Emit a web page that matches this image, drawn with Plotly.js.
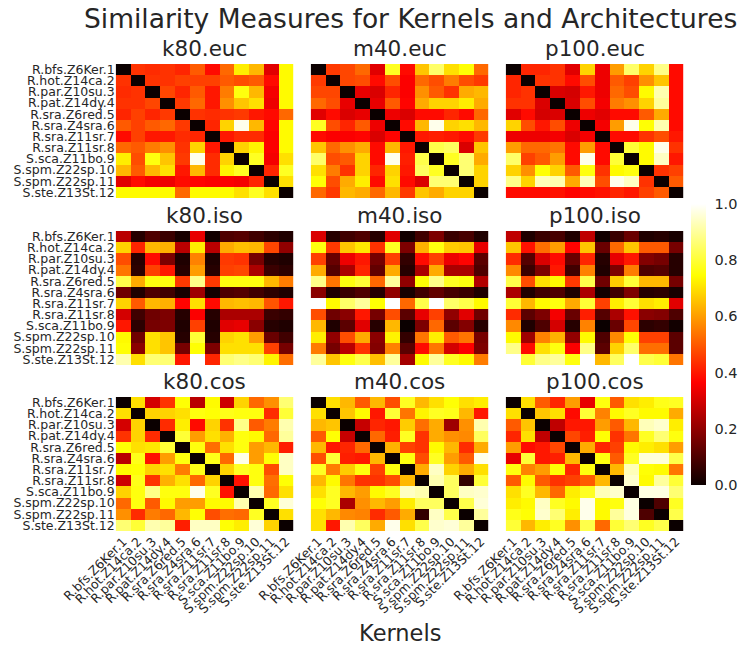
<!DOCTYPE html>
<html>
<head>
<meta charset="utf-8">
<script src="https://cdn.plot.ly/plotly-3.0.1.min.js"></script>
<style>html,body{margin:0;padding:0;background:#fff;}#chart{width:747px;height:655px;}</style>
</head>
<body>
<div id="chart"></div>
<script>
const kernels = ["R.bfs.Z6Ker.1","R.hot.Z14ca.2","R.par.Z10su.3","R.pat.Z14dy.4","R.sra.Z6red.5","R.sra.Z4sra.6","R.sra.Z11sr.7","R.sra.Z11sr.8","S.sca.Z11bo.9","S.spm.Z22sp.10","S.spm.Z22sp.11","S.ste.Z13St.12"];
const panelTitles = ["k80.euc","m40.euc","p100.euc","k80.iso","m40.iso","p100.iso","k80.cos","m40.cos","p100.cos"];
const colorbarTicks = [0, 0.2, 0.4, 0.6, 0.8, 1.0];

const k80Euc = [
[0,0.44,0.43,0.44,0.42,0.50,0.38,0.52,0.72,0.64,0.32,0.74],
[0.44,0,0.44,0.44,0.46,0.46,0.46,0.50,0.48,0.50,0.38,0.74],
[0.43,0.44,0,0.47,0.42,0.50,0.40,0.55,0.76,0.64,0.35,0.74],
[0.44,0.44,0.47,0,0.45,0.52,0.40,0.58,0.66,0.70,0.34,0.74],
[0.42,0.46,0.42,0.45,0,0.44,0.43,0.44,0.45,0.40,0.38,0.52],
[0.50,0.46,0.50,0.52,0.45,0,0.42,0.68,0.98,0.64,0.37,0.74],
[0.38,0.46,0.40,0.40,0.43,0.42,0,0.40,0.43,0.43,0.36,0.74],
[0.52,0.50,0.55,0.58,0.44,0.68,0.40,0,0.68,0.73,0.36,0.74],
[0.72,0.48,0.76,0.66,0.45,0.98,0.43,0.68,0,0.78,0.35,0.70],
[0.64,0.50,0.64,0.70,0.40,0.64,0.43,0.73,0.78,0,0.42,0.78],
[0.32,0.38,0.35,0.34,0.38,0.37,0.36,0.36,0.35,0.42,0,0.70],
[0.74,0.74,0.74,0.74,0.52,0.74,0.74,0.74,0.70,0.78,0.70,0]];

const m40Euc = [
[0,0.45,0.47,0.52,0.32,0.78,0.38,0.66,0.85,0.70,0.75,0.52],
[0.45,0,0.47,0.48,0.38,0.48,0.36,0.52,0.48,0.55,0.48,0.45],
[0.47,0.47,0,0.33,0.31,0.42,0.36,0.58,0.50,0.44,0.62,0.64],
[0.52,0.48,0.33,0,0.33,0.50,0.37,0.62,0.68,0.68,0.72,0.62],
[0.32,0.38,0.31,0.33,0,0.34,0.31,0.38,0.38,0.42,0.38,0.52],
[0.78,0.48,0.42,0.50,0.34,0,0.38,0.64,0.98,0.68,0.70,0.64],
[0.38,0.36,0.36,0.37,0.31,0.37,0,0.40,0.41,0.40,0.38,0.45],
[0.66,0.52,0.58,0.62,0.38,0.64,0.40,0,0.82,0.84,0.31,0.66],
[0.85,0.48,0.50,0.68,0.38,0.98,0.41,0.82,0,0.78,0.86,0.62],
[0.70,0.55,0.44,0.68,0.42,0.68,0.40,0.84,0.78,0,0.86,0.68],
[0.75,0.48,0.62,0.72,0.38,0.70,0.38,0.31,0.86,0.86,0,0.68],
[0.52,0.45,0.64,0.62,0.52,0.64,0.45,0.66,0.62,0.68,0.68,0]];

const p100Euc = [
[0,0.42,0.42,0.44,0.32,0.68,0.34,0.60,0.85,0.68,0.88,0.38],
[0.42,0,0.44,0.44,0.38,0.48,0.34,0.50,0.46,0.58,0.66,0.38],
[0.42,0.44,0,0.31,0.30,0.40,0.34,0.52,0.48,0.74,0.92,0.38],
[0.44,0.44,0.31,0,0.31,0.48,0.35,0.55,0.58,0.68,0.90,0.38],
[0.32,0.38,0.30,0.31,0,0.34,0.32,0.38,0.38,0.50,0.62,0.38],
[0.68,0.48,0.40,0.48,0.34,0,0.35,0.60,0.98,0.75,0.92,0.38],
[0.34,0.34,0.34,0.35,0.31,0.35,0,0.38,0.38,0.44,0.48,0.40],
[0.60,0.52,0.52,0.54,0.38,0.60,0.38,0,0.80,0.74,0.98,0.44],
[0.85,0.46,0.50,0.60,0.38,0.98,0.38,0.80,0,0.74,0.94,0.40],
[0.68,0.58,0.75,0.68,0.50,0.76,0.44,0.74,0.76,0,0.44,0.46],
[0.88,0.68,0.93,0.92,0.62,0.93,0.48,0.98,0.94,0.44,0,0.50],
[0.38,0.38,0.38,0.39,0.37,0.38,0.39,0.42,0.40,0.46,0.50,0]];

const k80Iso = [
[0.26,0.04,0.10,0.07,0.02,0.33,0.01,0.10,0.11,0.08,0.05,0.03],
[0.68,0.42,0.64,0.63,0.26,0.72,0.26,0.62,0.65,0.64,0.47,0.20],
[0.48,0.04,0.38,0.17,0.03,0.56,0.03,0.45,0.44,0.16,0.04,0.03],
[0.54,0.05,0.46,0.40,0.04,0.60,0.04,0.46,0.47,0.24,0.07,0.05],
[0.82,0.62,0.76,0.76,0.45,0.88,0.45,0.76,0.76,0.76,0.64,0.55],
[0.15,0.03,0.10,0.08,0.02,0.22,0.01,0.10,0.11,0.08,0.05,0.03],
[0.68,0.50,0.64,0.63,0.37,0.70,0.38,0.64,0.65,0.64,0.49,0.40],
[0.30,0.08,0.15,0.17,0.04,0.36,0.04,0.24,0.24,0.24,0.07,0.06],
[0.40,0.05,0.16,0.17,0.03,0.46,0.03,0.32,0.33,0.19,0.04,0.03],
[0.74,0.15,0.70,0.66,0.04,0.80,0.04,0.68,0.70,0.60,0.14,0.08],
[0.75,0.19,0.70,0.66,0.16,0.75,0.17,0.70,0.70,0.70,0.46,0.16],
[0.92,0.70,0.86,0.86,0.40,1.00,0.42,0.86,0.88,0.86,0.73,0.53]];

const m40Iso = [
[0.31,0.04,0.08,0.10,0.04,0.32,0.01,0.08,0.17,0.07,0.09,0.03],
[0.76,0.45,0.66,0.71,0.44,0.78,0.17,0.63,0.76,0.67,0.66,0.33],
[0.46,0.14,0.34,0.40,0.16,0.46,0.06,0.38,0.46,0.34,0.37,0.12],
[0.62,0.11,0.24,0.42,0.13,0.62,0.04,0.24,0.62,0.24,0.24,0.10],
[0.88,0.54,0.76,0.80,0.52,0.90,0.20,0.75,0.88,0.78,0.76,0.25],
[0.19,0.03,0.07,0.10,0.04,0.20,0.02,0.08,0.13,0.09,0.07,0.03],
[1.00,0.74,0.85,0.90,0.75,1.00,0.52,0.82,1.00,0.85,0.82,0.74],
[0.48,0.15,0.19,0.40,0.16,0.48,0.12,0.33,0.46,0.20,0.32,0.15],
[0.64,0.03,0.12,0.32,0.04,0.64,0.00,0.17,0.52,0.12,0.18,0.04],
[0.72,0.20,0.48,0.62,0.19,0.73,0.06,0.54,0.72,0.50,0.54,0.16],
[0.55,0.16,0.26,0.44,0.18,0.56,0.12,0.38,0.54,0.30,0.36,0.17],
[0.90,0.66,0.76,0.82,0.65,0.90,0.23,0.74,0.90,0.78,0.74,0.55]];

const p100Iso = [
[0.27,0.03,0.07,0.09,0.03,0.27,0.01,0.07,0.14,0.03,0.04,0.02],
[0.66,0.39,0.53,0.60,0.37,0.66,0.14,0.52,0.66,0.50,0.50,0.16],
[0.43,0.11,0.31,0.38,0.14,0.42,0.04,0.33,0.40,0.18,0.16,0.04],
[0.57,0.07,0.17,0.40,0.08,0.56,0.03,0.17,0.55,0.10,0.11,0.04],
[0.82,0.48,0.70,0.74,0.45,0.82,0.15,0.67,0.80,0.64,0.64,0.16],
[0.24,0.03,0.08,0.10,0.03,0.24,0.01,0.08,0.17,0.04,0.05,0.02],
[0.80,0.64,0.74,0.76,0.62,0.80,0.46,0.72,0.80,0.70,0.72,0.32],
[0.43,0.12,0.17,0.35,0.14,0.41,0.11,0.24,0.39,0.19,0.18,0.10],
[0.57,0.03,0.10,0.30,0.04,0.56,0.00,0.14,0.47,0.05,0.06,0.01],
[0.74,0.22,0.56,0.63,0.20,0.74,0.10,0.57,0.75,0.46,0.46,0.12],
[0.88,0.38,0.70,0.76,0.36,0.88,0.12,0.68,0.85,0.53,0.53,0.12],
[1.00,0.80,0.88,0.90,0.76,1.00,0.64,0.84,1.00,0.82,0.80,0.54]];

const k80Cos = [
[0,0.70,0.30,0.44,0.75,0.26,0.74,0.29,0.68,0.52,0.58,0.86],
[0.70,0,0.68,0.68,0.70,0.76,0.75,0.77,0.76,0.76,0.43,0.80],
[0.30,0.68,0,0.43,0.72,0.38,0.68,0.44,0.88,0.50,0.55,0.92],
[0.44,0.68,0.43,0,0.80,0.60,0.70,0.63,0.76,0.74,0.52,0.90],
[0.75,0.70,0.71,0.80,0,0.76,0.53,0.70,0.76,0.60,0.64,0.41],
[0.26,0.77,0.39,0.60,0.76,0,0.77,0.52,0.98,0.60,0.75,0.94],
[0.74,0.75,0.68,0.70,0.55,0.77,0,0.68,0.78,0.76,0.48,0.94],
[0.29,0.77,0.44,0.63,0.70,0.52,0.68,0,0.39,0.76,0.53,0.75],
[0.68,0.76,0.88,0.76,0.76,0.98,0.78,0.39,0,0.92,0.52,0.70],
[0.52,0.76,0.50,0.74,0.60,0.60,0.74,0.74,0.92,0,0.78,0.96],
[0.58,0.43,0.55,0.52,0.64,0.75,0.48,0.53,0.52,0.78,0,0.70],
[0.86,0.80,0.92,0.90,0.41,0.94,0.94,0.75,0.72,0.96,0.68,0]];

const m40Cos = [
[0,0.70,0.64,0.50,0.64,0.48,0.78,0.64,0.70,0.75,0.70,0.72],
[0.70,0,0.66,0.74,0.40,0.80,0.54,0.73,0.78,0.77,0.64,0.40],
[0.64,0.66,0,0.28,0.42,0.40,0.67,0.53,0.62,0.22,0.58,0.92],
[0.50,0.75,0.28,0,0.52,0.41,0.78,0.44,0.62,0.58,0.57,0.84],
[0.64,0.40,0.42,0.52,0,0.63,0.46,0.44,0.74,0.64,0.43,0.62],
[0.48,0.80,0.41,0.40,0.64,0,0.76,0.48,0.78,0.60,0.50,0.98],
[0.78,0.55,0.67,0.76,0.46,0.76,0,0.62,0.94,0.68,0.62,0.70],
[0.64,0.74,0.54,0.44,0.44,0.48,0.64,0,0.92,0.84,0.06,0.80],
[0.70,0.78,0.64,0.60,0.74,0.78,0.94,0.92,0,0.84,0.94,0.95],
[0.75,0.78,0.24,0.58,0.64,0.60,0.72,0.84,0.84,0,0.82,0.96],
[0.70,0.64,0.57,0.56,0.43,0.50,0.62,0.06,0.94,0.82,0,0.90],
[0.70,0.40,0.92,0.84,0.62,0.98,0.70,0.82,0.95,0.96,0.90,0]];

const p100Cos = [
[0,0.70,0.50,0.42,0.60,0.33,0.76,0.50,0.70,0.72,0.77,0.78],
[0.70,0,0.66,0.70,0.38,0.80,0.56,0.74,0.78,0.74,0.74,0.62],
[0.50,0.66,0,0.27,0.40,0.40,0.60,0.50,0.64,0.93,0.95,0.72],
[0.42,0.70,0.27,0,0.47,0.41,0.75,0.44,0.54,0.78,0.86,0.76],
[0.60,0.38,0.40,0.47,0,0.62,0.42,0.46,0.74,0.72,0.70,0.60],
[0.33,0.80,0.40,0.41,0.64,0,0.76,0.50,0.78,0.96,0.96,0.82],
[0.76,0.56,0.60,0.75,0.42,0.76,0,0.64,0.93,0.75,0.74,0.54],
[0.50,0.74,0.50,0.44,0.46,0.50,0.64,0,0.95,0.74,0.90,0.80],
[0.70,0.78,0.64,0.52,0.72,0.78,0.93,0.95,0,0.97,0.97,0.86],
[0.72,0.74,0.94,0.78,0.74,0.98,0.74,0.76,0.97,0,0.10,0.78],
[0.77,0.75,0.95,0.86,0.72,0.98,0.74,0.90,0.97,0.10,0,0.82],
[0.80,0.64,0.72,0.78,0.58,0.82,0.52,0.80,0.86,0.78,0.82,0]];

const matrices = [k80Euc, m40Euc, p100Euc, k80Iso, m40Iso, p100Iso, k80Cos, m40Cos, p100Cos];

// matplotlib "hot"
const hot = [[0,'rgb(11,0,0)'],[0.365079,'rgb(255,0,0)'],[0.746032,'rgb(255,255,0)'],[1,'rgb(255,255,255)']];

const W = 747, H = 655;
const colPx = [[115.7,293.3],[310.7,488.3],[505.7,683.3]];
const rowPx = [[64,198],[231,365],[397,531]];
const FONT = 'DejaVu Sans, sans-serif';
const TXT = '#262626';

const data = [];
const layout = {
  width: W, height: H,
  margin: {l:0, r:0, t:0, b:0},
  paper_bgcolor: '#fff', plot_bgcolor: '#fff',
  font: {family: FONT, color: TXT},
  showlegend: false,
  annotations: []
};

matrices.forEach((z, i) => {
  const r = Math.floor(i / 3), c = i % 3;
  const n = i + 1;
  const xa = 'x' + (n === 1 ? '' : n), ya = 'y' + (n === 1 ? '' : n);
  const trace = {
    type: 'heatmap', z: z, x: kernels, y: kernels,
    xaxis: xa, yaxis: ya,
    colorscale: hot, zmin: 0, zmax: 1,
    showscale: i === 0, hoverongaps: false
  };
  if (i === 0) {
    trace.colorbar = {
      x: 691 / W, xanchor: 'left', xpad: 0,
      y: 1 - (204 + 485) / 2 / H, yanchor: 'middle', ypad: 0,
      len: 281, lenmode: 'pixels', thickness: 15, thicknessmode: 'pixels',
      outlinewidth: 0, tickvals: colorbarTicks, tickformat: '.1f',
      ticks: 'outside', ticklen: 6, tickcolor: 'rgba(0,0,0,0)',
      tickfont: {family: FONT, size: 14.5, color: TXT}
    };
  }
  data.push(trace);
  const xKey = 'xaxis' + (n === 1 ? '' : n), yKey = 'yaxis' + (n === 1 ? '' : n);
  layout[xKey] = {
    domain: [colPx[c][0] / W, colPx[c][1] / W], anchor: ya,
    showgrid: false, zeroline: false, showline: false, ticks: '',
    showticklabels: r === 2, tickangle: -45, type: 'category',
    tickmode: 'array', tickvals: kernels, ticktext: kernels,
    tickfont: {family: FONT, size: 12.5, color: TXT}
  };
  layout[yKey] = {
    domain: [1 - rowPx[r][1] / H, 1 - rowPx[r][0] / H], anchor: xa,
    showgrid: false, zeroline: false, showline: false, ticks: '',
    showticklabels: c === 0, autorange: 'reversed', type: 'category',
    tickmode: 'array', tickvals: kernels, ticktext: kernels,
    tickfont: {family: FONT, size: 12.5, color: TXT}
  };
  layout.annotations.push({
    text: panelTitles[i], xref: 'paper', yref: 'paper',
    x: (colPx[c][0] + colPx[c][1]) / 2 / W, y: 1 - (rowPx[r][0] - 1) / H,
    xanchor: 'center', yanchor: 'bottom', showarrow: false,
    font: {family: FONT, size: 21.5, color: TXT}
  });
});

layout.annotations.push({
  text: 'Similarity Measures for Kernels and Architectures', xref: 'paper', yref: 'paper',
  x: 410 / W, y: 1 - 18 / H, xanchor: 'center', yanchor: 'middle', showarrow: false,
  font: {family: FONT, size: 26.5, color: TXT}
});
layout.annotations.push({
  text: 'Kernels', xref: 'paper', yref: 'paper',
  x: 400 / W, y: 1 - 633 / H, xanchor: 'center', yanchor: 'middle', showarrow: false,
  font: {family: FONT, size: 22.5, color: TXT}
});

Plotly.newPlot('chart', data, layout, {displayModeBar: false, staticPlot: true});
</script>
</body>
</html>
